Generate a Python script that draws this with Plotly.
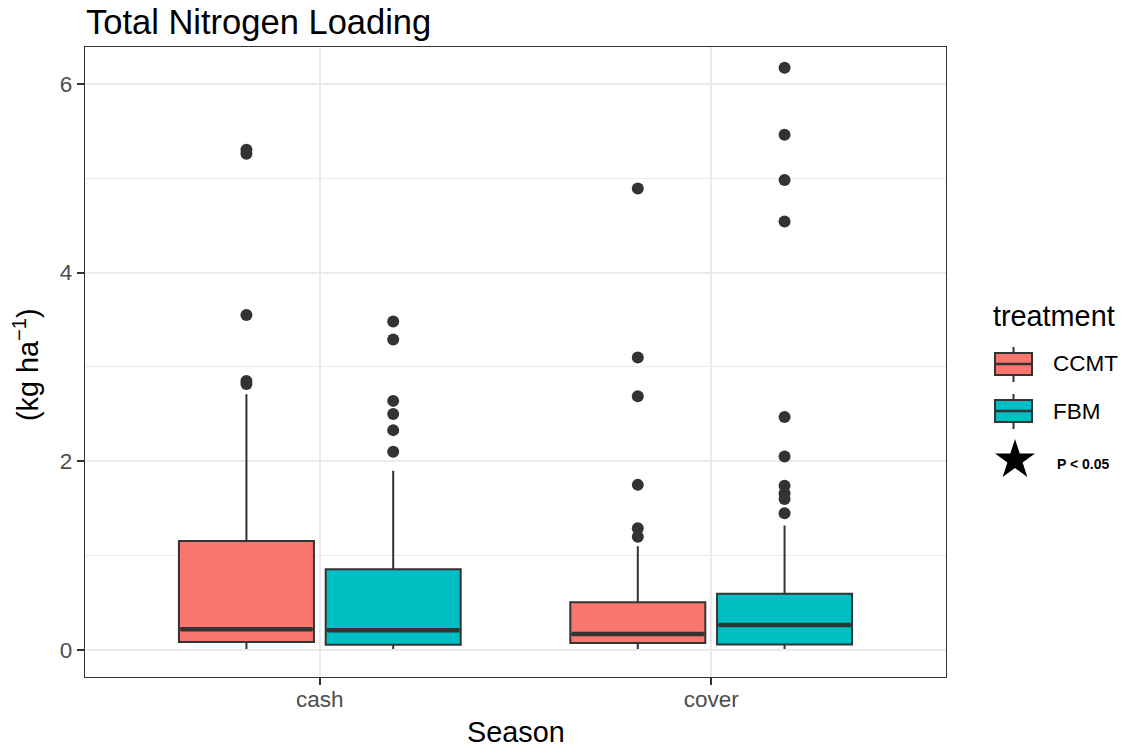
import plotly.graph_objects as go

# ---------------- data ----------------
seasons = ["cash", "cover"]
treatments = ["CCMT", "FBM"]
colors = {"CCMT": "#F8766D", "FBM": "#00BFC4"}

q1_ccmt = [0.085, 0.074]
median_ccmt = [0.22, 0.17]
q3_ccmt = [1.155, 0.505]
lower_ccmt = [0.01, 0.01]
upper_ccmt = [2.71, 1.10]
outliers_ccmt_cash = [5.30, 5.26, 3.55, 2.85, 2.82]
outliers_ccmt_cover = [4.89, 3.10, 2.69, 1.75, 1.29, 1.20]

q1_fbm = [0.055, 0.058]
median_fbm = [0.21, 0.265]
q3_fbm = [0.855, 0.595]
lower_fbm = [0.01, 0.01]
upper_fbm = [1.90, 1.32]
outliers_fbm_cash = [3.48, 3.29, 2.64, 2.50, 2.33, 2.10]
outliers_fbm_cover = [6.17, 5.46, 4.98, 4.54, 2.47, 2.05, 1.74, 1.66, 1.60, 1.45]

y_ticks = [0, 2, 4, 6]

stats = {
    "CCMT": dict(q1=q1_ccmt, med=median_ccmt, q3=q3_ccmt, lo=lower_ccmt, hi=upper_ccmt,
                 out=[outliers_ccmt_cash, outliers_ccmt_cover]),
    "FBM": dict(q1=q1_fbm, med=median_fbm, q3=q3_fbm, lo=lower_fbm, hi=upper_fbm,
                out=[outliers_fbm_cash, outliers_fbm_cover]),
}

# ---------------- layout helpers ----------------
W, H = 1123, 748
def px(x):
    return x / W
def py(y):
    return 1 - y / H

FONT = "Liberation Sans, Arial, sans-serif"
DARK = "#333333"
DODGE = {"CCMT": -0.1875, "FBM": 0.1875}
BOXW = 0.345

fig = go.Figure()

for t in treatments:
    s = stats[t]
    pos = [i + 1 + DODGE[t] for i in range(len(seasons))]
    fig.add_trace(go.Box(
        x=pos, q1=s["q1"], median=s["med"], q3=s["q3"],
        lowerfence=s["lo"], upperfence=s["hi"],
        width=BOXW, boxpoints=False, whiskerwidth=0,
        fillcolor=colors[t], line=dict(color=DARK, width=2),
        name=t, showlegend=False, xaxis="x", yaxis="y",
    ))
    # thicker median line (ggplot style)
    mx, my = [], []
    for p, m in zip(pos, s["med"]):
        mx += [p - BOXW / 2 + 0.004, p + BOXW / 2 - 0.004, None]
        my += [m, m, None]
    fig.add_trace(go.Scatter(x=mx, y=my, mode="lines",
                             line=dict(color=DARK, width=4.5),
                             showlegend=False, hoverinfo="skip"))
    # outliers
    ox, oy = [], []
    for p, outs in zip(pos, s["out"]):
        ox += [p] * len(outs)
        oy += outs
    fig.add_trace(go.Scatter(x=ox, y=oy, mode="markers",
                             marker=dict(color=DARK, size=12),
                             showlegend=False))

# star legend key on a pixel-space overlay axis
fig.add_trace(go.Scatter(x=[1015], y=[460], mode="markers",
                         marker=dict(symbol="star", color="black", size=30),
                         xaxis="x2", yaxis="y2", showlegend=False, hoverinfo="skip"))

fig.update_layout(
    width=W, height=H,
    margin=dict(l=0, r=0, t=0, b=0),
    paper_bgcolor="white", plot_bgcolor="rgba(0,0,0,0)",
    boxmode="overlay",
    font=dict(family=FONT),
    xaxis=dict(
        domain=[px(85), px(946)], range=[0.4, 2.6],
        tickvals=[1, 2], ticktext=seasons,
        tickfont=dict(size=22.5, color="#4D4D4D", family=FONT),
        ticks="outside", ticklen=7, tickwidth=1.5, tickcolor=DARK,
        ticklabelstandoff=-5,
        showgrid=True, gridcolor="#EBEBEB", gridwidth=2,
        showline=True, linecolor=DARK, linewidth=1.3, mirror=True,
        zeroline=False, automargin=False, anchor="y",
    ),
    yaxis=dict(
        domain=[py(677), py(47)], range=[-0.286, 6.39],
        tickvals=y_ticks,
        tickfont=dict(size=22.5, color="#4D4D4D", family=FONT),
        ticks="outside", ticklen=7, tickwidth=1.5, tickcolor=DARK,
        showgrid=True, gridcolor="#EBEBEB", gridwidth=2,
        minor=dict(tickvals=[1, 3, 5], showgrid=True, gridcolor="#EBEBEB", gridwidth=1, ticks=""),
        showline=True, linecolor=DARK, linewidth=1.3, mirror=True,
        zeroline=False, automargin=False, anchor="x",
    ),
    xaxis2=dict(domain=[0, 1], range=[0, W], visible=False, anchor="y2", fixedrange=True),
    yaxis2=dict(domain=[0, 1], range=[H, 0], visible=False, anchor="x2", fixedrange=True),
)

ann = []
ann.append(dict(text="Total Nitrogen Loading", x=px(84), y=py(22), xref="paper", yref="paper",
                xanchor="left", yanchor="middle", showarrow=False,
                font=dict(size=34.5, color="black", family=FONT)))
ann.append(dict(text="Season", x=px(515.5), y=py(732), xref="paper", yref="paper",
                xanchor="center", yanchor="middle", showarrow=False,
                font=dict(size=28.8, color="black", family=FONT)))
ann.append(dict(text="(kg ha<sup>\u22121</sup>)", x=px(26), y=py(365), xref="paper", yref="paper",
                xanchor="center", yanchor="middle", showarrow=False, textangle=-90,
                font=dict(size=28.8, color="black", family=FONT)))
# legend
ann.append(dict(text="treatment", x=px(991), y=py(316), xref="paper", yref="paper",
                xanchor="left", yanchor="middle", showarrow=False,
                font=dict(size=28.8, color="black", family=FONT)))
shapes = []
key_y = {"CCMT": 364, "FBM": 411}
for t in treatments:
    cy = key_y[t]
    shapes.append(dict(type="line", xref="paper", yref="paper",
                       x0=px(1013.5), x1=px(1013.5), y0=py(cy - 17), y1=py(cy + 18),
                       line=dict(color=DARK, width=2)))
    shapes.append(dict(type="rect", xref="paper", yref="paper",
                       x0=px(995), x1=px(1032), y0=py(cy - 11), y1=py(cy + 11),
                       fillcolor=colors[t], line=dict(color=DARK, width=2)))
    shapes.append(dict(type="line", xref="paper", yref="paper",
                       x0=px(995), x1=px(1032), y0=py(cy), y1=py(cy),
                       line=dict(color=DARK, width=2.5)))
    ann.append(dict(text=t, x=px(1051), y=py(cy), xref="paper", yref="paper",
                    xanchor="left", yanchor="middle", showarrow=False,
                    font=dict(size=22.5, color="black", family=FONT)))
ann.append(dict(text="<b>P &lt; 0.05</b>", x=px(1055), y=py(464), xref="paper", yref="paper",
                xanchor="left", yanchor="middle", showarrow=False,
                font=dict(size=14, color="black", family=FONT)))

fig.update_layout(annotations=ann, shapes=shapes)
fig.write_html("out.html")
